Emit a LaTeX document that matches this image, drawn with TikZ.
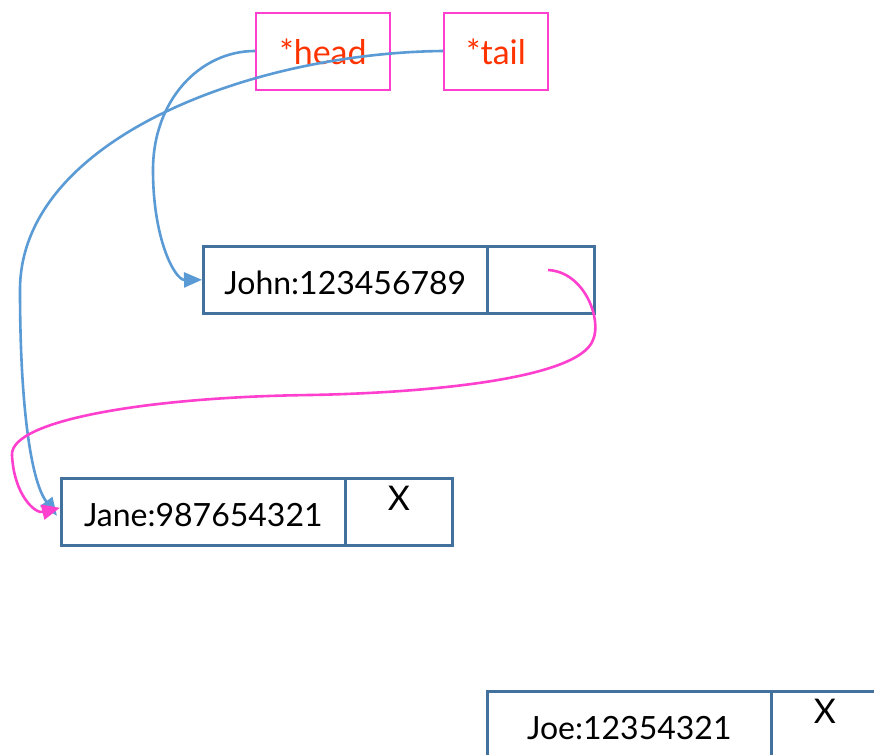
\documentclass[tikz,border=0pt]{standalone}
\usepackage{fontspec}
\setmainfont{Lato}
\usetikzlibrary{arrows.meta}
\definecolor{boxblue}{HTML}{41719C}
\definecolor{ptrpink}{HTML}{FF40CF}
\definecolor{lineblue}{HTML}{5B9BD5}
\definecolor{txtred}{HTML}{FF3300}
\tikzset{
  cell/.style={draw=boxblue, line width=2.6pt, rectangle, inner sep=0pt, anchor=north west, text height=30pt, text depth=0pt, font=\fontsize{32}{34}\selectfont},
  varbox/.style={draw=ptrpink, line width=2pt, rectangle, inner sep=0pt, anchor=north west, text=txtred, font=\fontsize{34}{36}\selectfont},
  xmark/.style={label={[anchor=north, inner sep=0pt, font=\fontsize{34}{36}\selectfont, yshift=-9pt]north:X}},
  blueptr/.style={draw=lineblue, line width=2.6pt, -{Triangle[length=18pt,width=15pt]}},
  pinkptr/.style={draw=ptrpink, line width=2.6pt, -{Triangle[length=18pt,width=15pt]}}
}
\begin{document}
\begin{tikzpicture}[x=1pt,y=-1pt]
\useasboundingbox (0,0) rectangle (874,754);
\clip (0,0) rectangle (874,754);
\fill[white] (0,0) rectangle (874,754);
% variable boxes
\node[varbox, minimum width=134pt, minimum height=77pt] (head) at (255,12) {*head};
\node[varbox, minimum width=104pt, minimum height=77pt] (tail) at (443,12) {*tail};
% John
\node[cell, minimum width=284pt, minimum height=67pt] (johnD) at (202,245) {John:123456789};
\node[cell, minimum width=107pt, minimum height=67pt] (johnP) at (486,245) {};
% Jane
\node[cell, minimum width=284pt, minimum height=67pt] (janeD) at (60,477) {Jane:987654321};
\node[cell, xmark, minimum width=107pt, minimum height=67pt] (janeP) at (344,477) {};
% Joe
\node[cell, minimum width=284pt, minimum height=67pt] (joeD) at (486,690) {Joe:12354321};
\node[cell, xmark, minimum width=107pt, minimum height=67pt] (joeP) at (770,690) {};
\coordinate (johnPtr) at (548,270);
\coordinate (headOut) at (head.west |- 0,51);
\coordinate (tailOut) at (tail.west |- 0,51);
\coordinate (janeIn1) at ([yshift=-4pt]janeD.west);
\coordinate (janeIn2) at ([yshift=4pt]janeD.west);
% pointers
\draw[blueptr] (headOut) .. controls (200,51) and (153,100) .. (153,170)
   .. controls (153,240) and (175,280) .. (johnD.west);
\draw[blueptr] (tailOut) .. controls (250,53) and (20,140) .. (20,290)
   .. controls (20,400) and (30,480) .. ([xshift=-3pt]janeIn1);
\draw[pinkptr] (johnPtr) .. controls (585,272) and (602,320) .. (593,340)
   .. controls (578,380) and (420,393) .. (310,395)
   .. controls (150,397) and (10,420) .. (12,455)
   .. controls (14,495) and (35,514) .. (janeIn2);
\end{tikzpicture}
\end{document}
